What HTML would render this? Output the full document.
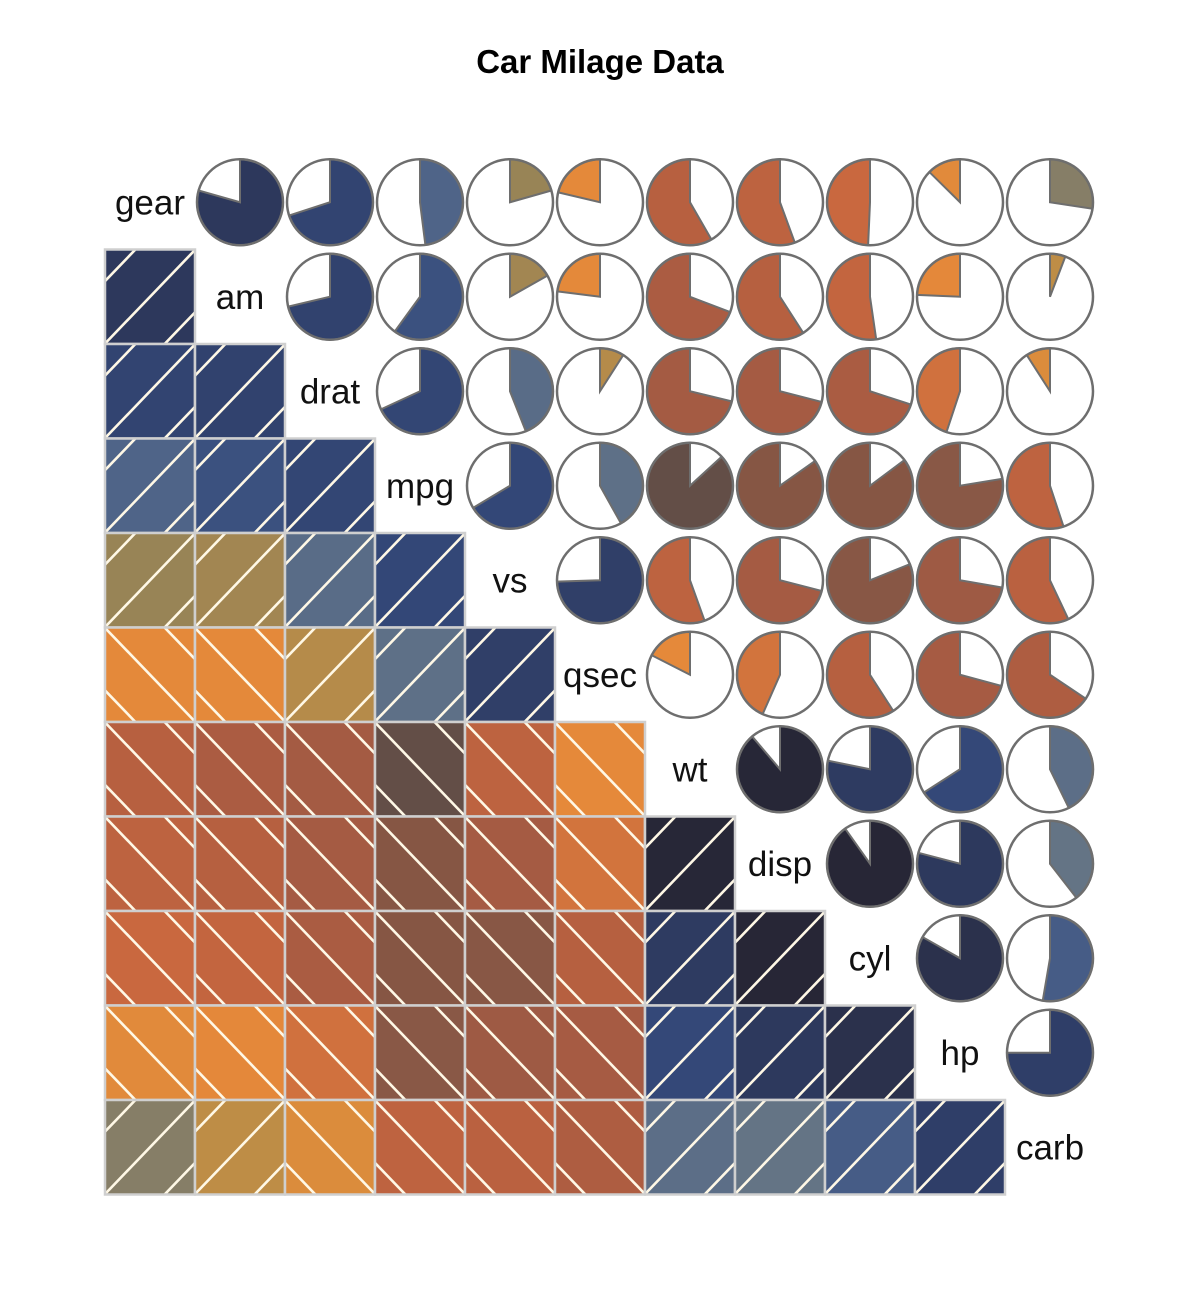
<!DOCTYPE html>
<html><head><meta charset="utf-8"><style>
html,body{margin:0;padding:0;background:#fff;}
svg{display:block;font-family:"Liberation Sans",Arial,sans-serif;}
</style></head><body>
<svg id="chart" width="1200" height="1300" viewBox="0 0 1200 1300">
<text x="600" y="73" text-anchor="middle" font-size="33" font-weight="bold">Car Milage Data</text>
<g id="cells"></g>
</svg>
<script>
const variables = ["gear","am","drat","mpg","vs","qsec","wt","disp","cyl","hp","carb"];
const corrPairs = [
["mpg","cyl",-0.852],["mpg","disp",-0.848],["mpg","hp",-0.776],["mpg","drat",0.681],["mpg","wt",-0.868],["mpg","qsec",0.419],["mpg","vs",0.664],["mpg","am",0.600],["mpg","gear",0.480],["mpg","carb",-0.551],
["cyl","disp",0.902],["cyl","hp",0.832],["cyl","drat",-0.700],["cyl","wt",0.782],["cyl","qsec",-0.591],["cyl","vs",-0.811],["cyl","am",-0.523],["cyl","gear",-0.493],["cyl","carb",0.527],
["disp","hp",0.791],["disp","drat",-0.710],["disp","wt",0.888],["disp","qsec",-0.434],["disp","vs",-0.710],["disp","am",-0.591],["disp","gear",-0.556],["disp","carb",0.395],
["hp","drat",-0.449],["hp","wt",0.659],["hp","qsec",-0.708],["hp","vs",-0.723],["hp","am",-0.243],["hp","gear",-0.126],["hp","carb",0.750],
["drat","wt",-0.712],["drat","qsec",0.091],["drat","vs",0.440],["drat","am",0.713],["drat","gear",0.700],["drat","carb",-0.091],
["wt","qsec",-0.175],["wt","vs",-0.555],["wt","am",-0.692],["wt","gear",-0.583],["wt","carb",0.428],
["qsec","vs",0.745],["qsec","am",-0.230],["qsec","gear",-0.213],["qsec","carb",-0.656],
["vs","am",0.168],["vs","gear",0.206],["vs","carb",-0.570],
["am","gear",0.794],["am","carb",0.058],
["gear","carb",0.274]
];
const colorStops = [[-1,"#3a3436"],[-0.86,"#665048"],[-0.855,"#865644"],[-0.76,"#8a5846"],[-0.7,"#aa5c42"],[-0.6,"#b45f40"],[-0.5,"#c8673f"],[-0.33,"#e3883a"],[-0.15,"#e5893a"],[0,"#cc9040"],[0.2,"#9a8455"],[0.4,"#637486"],[0.5,"#4a6089"],[0.65,"#34497a"],[0.78,"#2e3b62"],[0.88,"#282838"],[1,"#201f2c"]];

const X0=105, CW=90, Y0=155, RH=94.5;
const xCell=i=>X0+i*CW, yCell=i=>Y0+i*RH;
function hex(c){return [1,3,5].map(k=>parseInt(c.substr(k,2),16));}
function colorFor(r){
  for(let k=0;k<colorStops.length-1;k++){
    const [a,ca]=colorStops[k],[b,cb]=colorStops[k+1];
    if(r>=a&&r<=b){const t=(r-a)/(b-a),A=hex(ca),B=hex(cb);
      return "rgb("+A.map((v,j)=>Math.round(v+(B[j]-v)*t)).join(",")+")";}
  }
  return colorStops[colorStops.length-1][1];
}
const corr={};
corrPairs.forEach(([a,b,r])=>{corr[a+"|"+b]=r;corr[b+"|"+a]=r;});
const NS="http://www.w3.org/2000/svg";
const g=document.getElementById("cells");
function mk(tag,attrs,parent){const e=document.createElementNS(NS,tag);for(const k in attrs)e.setAttribute(k,attrs[k]);(parent||g).appendChild(e);return e;}
const defs=mk("defs",{});
const n=variables.length;
for(let i=0;i<n;i++){
  for(let j=0;j<n;j++){
    const x=xCell(j),y=yCell(i);
    if(i===j){
      const t=mk("text",{x:x+CW/2,y:y+RH/2+12,"text-anchor":"middle","font-size":"35",fill:"#111"});
      t.textContent=variables[i];
      
      
      continue;
    }
    const r=corr[variables[i]+"|"+variables[j]];
    const col=colorFor(r);
    if(i>j){
      const grp=mk("g",{});
      
      
      const cid="c"+i+"_"+j;
      const cp=mk("clipPath",{id:cid},defs);
      mk("rect",{x:x,y:y,width:CW,height:RH},cp);
      mk("rect",{x:x,y:y,width:CW,height:RH,fill:col},grp);
      const lg=mk("g",{"clip-path":"url(#"+cid+")",stroke:"#fff8e6","stroke-width":"2.6"},grp);
      const offs=[-60,0,60];
      offs.forEach(o=>{
        if(r>=0){
          mk("line",{x1:x+o-10,y1:y+RH+10,x2:x+o+CW+10,y2:y-10},lg);
        } else {
          mk("line",{x1:x+o-10,y1:y-10,x2:x+o+CW+10,y2:y+RH+10},lg);
        }
      });
      mk("rect",{x:x,y:y,width:CW,height:RH,fill:"none",stroke:"#cfcfcf","stroke-width":"2.5"},grp);
    } else {
      const grp=mk("g",{});
      
      
      const cx=x+CW/2, cy=y+RH/2, R=43;
      mk("circle",{cx:cx,cy:cy,r:R,fill:"#fff"},grp);
      const ang=Math.abs(r)*2*Math.PI;
      const dir=r>=0?1:-1;
      const ex=cx+dir*R*Math.sin(ang), ey=cy-R*Math.cos(ang);
      const large=ang>Math.PI?1:0;
      const sweep=r>=0?1:0;
      mk("path",{d:"M"+cx+","+cy+" L"+cx+","+(cy-R)+" A"+R+","+R+" 0 "+large+" "+sweep+" "+ex+","+ey+" Z",fill:col,stroke:"#6e6e6e","stroke-width":"2"},grp);
      mk("circle",{cx:cx,cy:cy,r:R,fill:"none",stroke:"#6e6e6e","stroke-width":"2.5"},grp);
    }
  }
}
</script>
</body></html>
